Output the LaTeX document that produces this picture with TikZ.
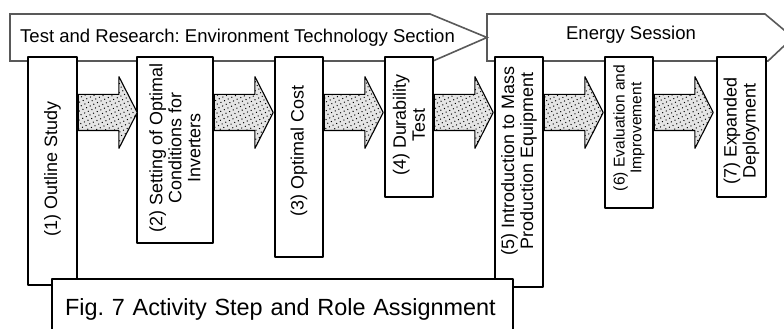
\documentclass[tikz,border=0pt]{standalone}
\usepackage{fontspec}
\setmainfont{Liberation Sans}
\frenchspacing
\usepackage{tikz}
\usetikzlibrary{shapes.arrows}
\usetikzlibrary{patterns.meta}
\tikzset{stepbox/.style={draw, fill=white, line width=1.3bp, inner sep=0pt},
  steptext/.style={rotate=90, align=center, inner sep=0pt, font=\fontsize{18}{19}\selectfont},
  flow/.style={single arrow, draw, line width=1.1bp, minimum height=59bp, inner xsep=0pt, inner ysep=17.5bp,
    single arrow head extend=18bp, single arrow tip angle=126, anchor=tail,
    preaction={fill=gray!20}, pattern={Dots[distance=4bp, radius=0.7bp, angle=25]}, pattern color=black},
  banner/.style={draw=black!65, line width=1.6bp, fill=white, line join=miter},
  bannertext/.style={inner sep=0pt, font=\fontsize{18.6}{20}\selectfont}}

\begin{document}
\begin{tikzpicture}[line join=bevel]
\useasboundingbox (0bp,0bp) rectangle (784bp,329bp);
%%
  \draw [banner] (487bp,315bp) -- (765bp,315bp) -- (793bp,291.5bp) -- (768bp,268bp) -- (487bp,268bp) -- cycle;
  \draw [banner] (10bp,315bp) -- (430bp,315bp) -- (487bp,291.5bp) -- (433bp,268bp) -- (10bp,268bp) -- cycle;
  \node (envsec) at (20bp,286bp) [bannertext, anchor=base west] {Test and Research: Environment Technology Section};
  \node (energy) at (631bp,289bp) [bannertext, anchor=base] {Energy Session};
%%
  \node (s1) at (52.5bp,158bp) [stepbox, minimum width=49bp, minimum height=228bp] {};
  \node (s2) at (175bp,179bp) [stepbox, minimum width=76bp, minimum height=186bp] {};
  \node (s3) at (299bp,172bp) [stepbox, minimum width=48bp, minimum height=200bp] {};
  \node (s4) at (409bp,202bp) [stepbox, minimum width=48bp, minimum height=140bp] {};
  \node (s5) at (519bp,157bp) [stepbox, minimum width=48bp, minimum height=230bp] {};
  \node (s6) at (629bp,196.5bp) [stepbox, minimum width=48bp, minimum height=151bp] {};
  \node (s7) at (741.5bp,202bp) [stepbox, minimum width=49bp, minimum height=140bp] {};
  \node (t1) at (52.5bp,160bp) [steptext] {(1) Outline Study};
  \node (t2) at (175bp,181bp) [steptext] {(2) Setting of Optimal\\Conditions for\\Inverters};
  \node (t3) at (299bp,178bp) [steptext] {(3) Optimal Cost};
  \node (t4) at (409bp,204bp) [steptext] {(4) Durability\\Test};
  \node (t5) at (519bp,168bp) [steptext] {(5) Introduction to Mass\\Production Equipment};
  \node (t6) at (629bp,201bp) [steptext, font=\fontsize{15.6}{16.8}\selectfont] {(6) Evaluation and\\Improvement};
  \node (t7) at (741.5bp,198bp) [steptext] {(7) Expanded\\Deployment};
%%
  \node (f1) at (s1.east |- 0bp,216.5bp) [flow] {};
  \node (f2) at (s2.east |- 0bp,216.5bp) [flow] {};
  \node (f3) at (s3.east |- 0bp,216.5bp) [flow] {};
  \node (f4) at (s4.east |- 0bp,216.5bp) [flow] {};
  \node (f5) at (s5.east |- 0bp,216.5bp) [flow] {};
  \node (f6) at (s6.east |- 0bp,216.5bp) [flow] {};
%%
  \node (fig) at (282.5bp,20bp) [draw, fill=white, line width=1.3bp, minimum height=60bp, text width=435bp, align=left, inner xsep=13bp, font=\fontsize{23.5}{25}\selectfont] {Fig. 7 Activity Step and Role Assignment};
%
\end{tikzpicture}
\end{document}
